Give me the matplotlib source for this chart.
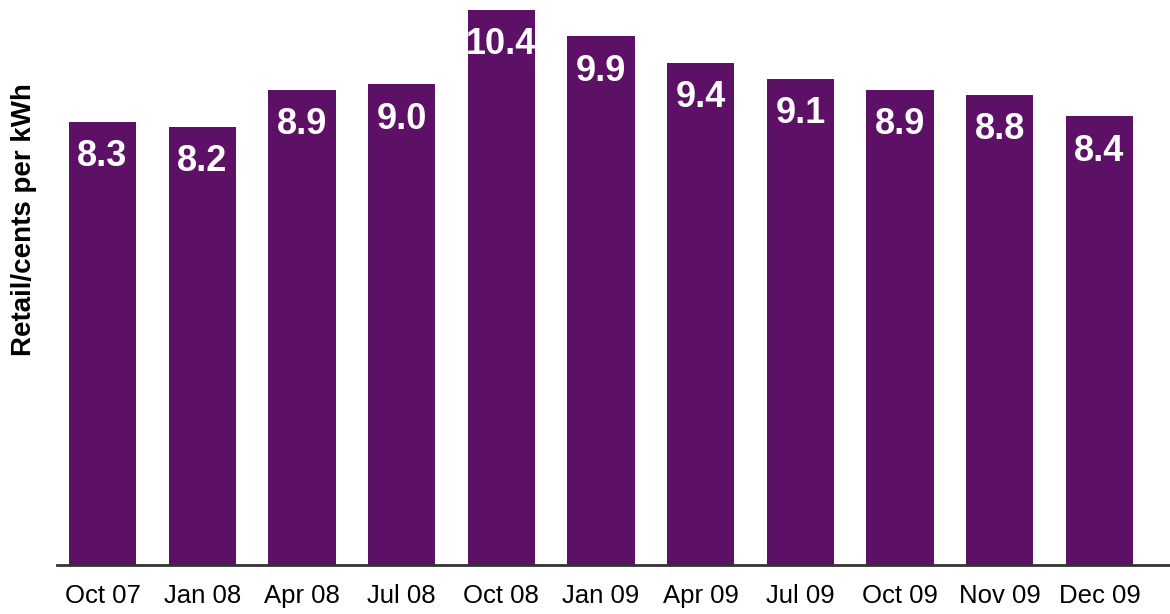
import matplotlib
matplotlib.use("Agg")
import matplotlib.pyplot as plt

categories = ["Oct 07", "Jan 08", "Apr 08", "Jul 08", "Oct 08", "Jan 09",
              "Apr 09", "Jul 09", "Oct 09", "Nov 09", "Dec 09"]
values = [8.3, 8.2, 8.9, 9.0, 10.4, 9.9, 9.4, 9.1, 8.9, 8.8, 8.4]
value_labels = ["8.3", "8.2", "8.9", "9.0", "10.4", "9.9", "9.4", "9.1", "8.9", "8.8", "8.4"]
ylabel = "Retail/cents per kWh"

fam = ["Liberation Sans", "DejaVu Sans"]

W, H = 1170, 614
fig = plt.figure(figsize=(W / 100, H / 100), dpi=100)
ax = fig.add_axes([57 / W, (H - 565) / H, (W - 57) / W, 565 / H])

bar_color = "#5C1066"
x = list(range(len(categories)))
ax.bar(x, values, width=0.675, color=bar_color, zorder=2)

for xi, v, lab in zip(x, values, value_labels):
    ax.annotate(lab, (xi, v), xytext=(0, -25), textcoords="offset points",
                ha="center", va="center", color="white", fontsize=26,
                fontweight="bold", family=fam, zorder=3)

ax.set_xlim(-0.456, 10.707)
ax.set_ylim(0, 10.58)
ax.set_xticks(x)
ax.set_xticklabels(categories, family=fam, fontsize=18.5)
ax.tick_params(axis="x", length=0, pad=14)
ax.set_yticks([])
for s in ["top", "right", "left"]:
    ax.spines[s].set_visible(False)
ax.spines["bottom"].set_color("#333333")
ax.spines["bottom"].set_linewidth(2)

fig.text(24 / W, 1 - 220 / H, ylabel, rotation=90, ha="center", va="center",
         fontsize=20, fontweight="bold", family=fam)

fig.savefig("out.png", dpi=100)
